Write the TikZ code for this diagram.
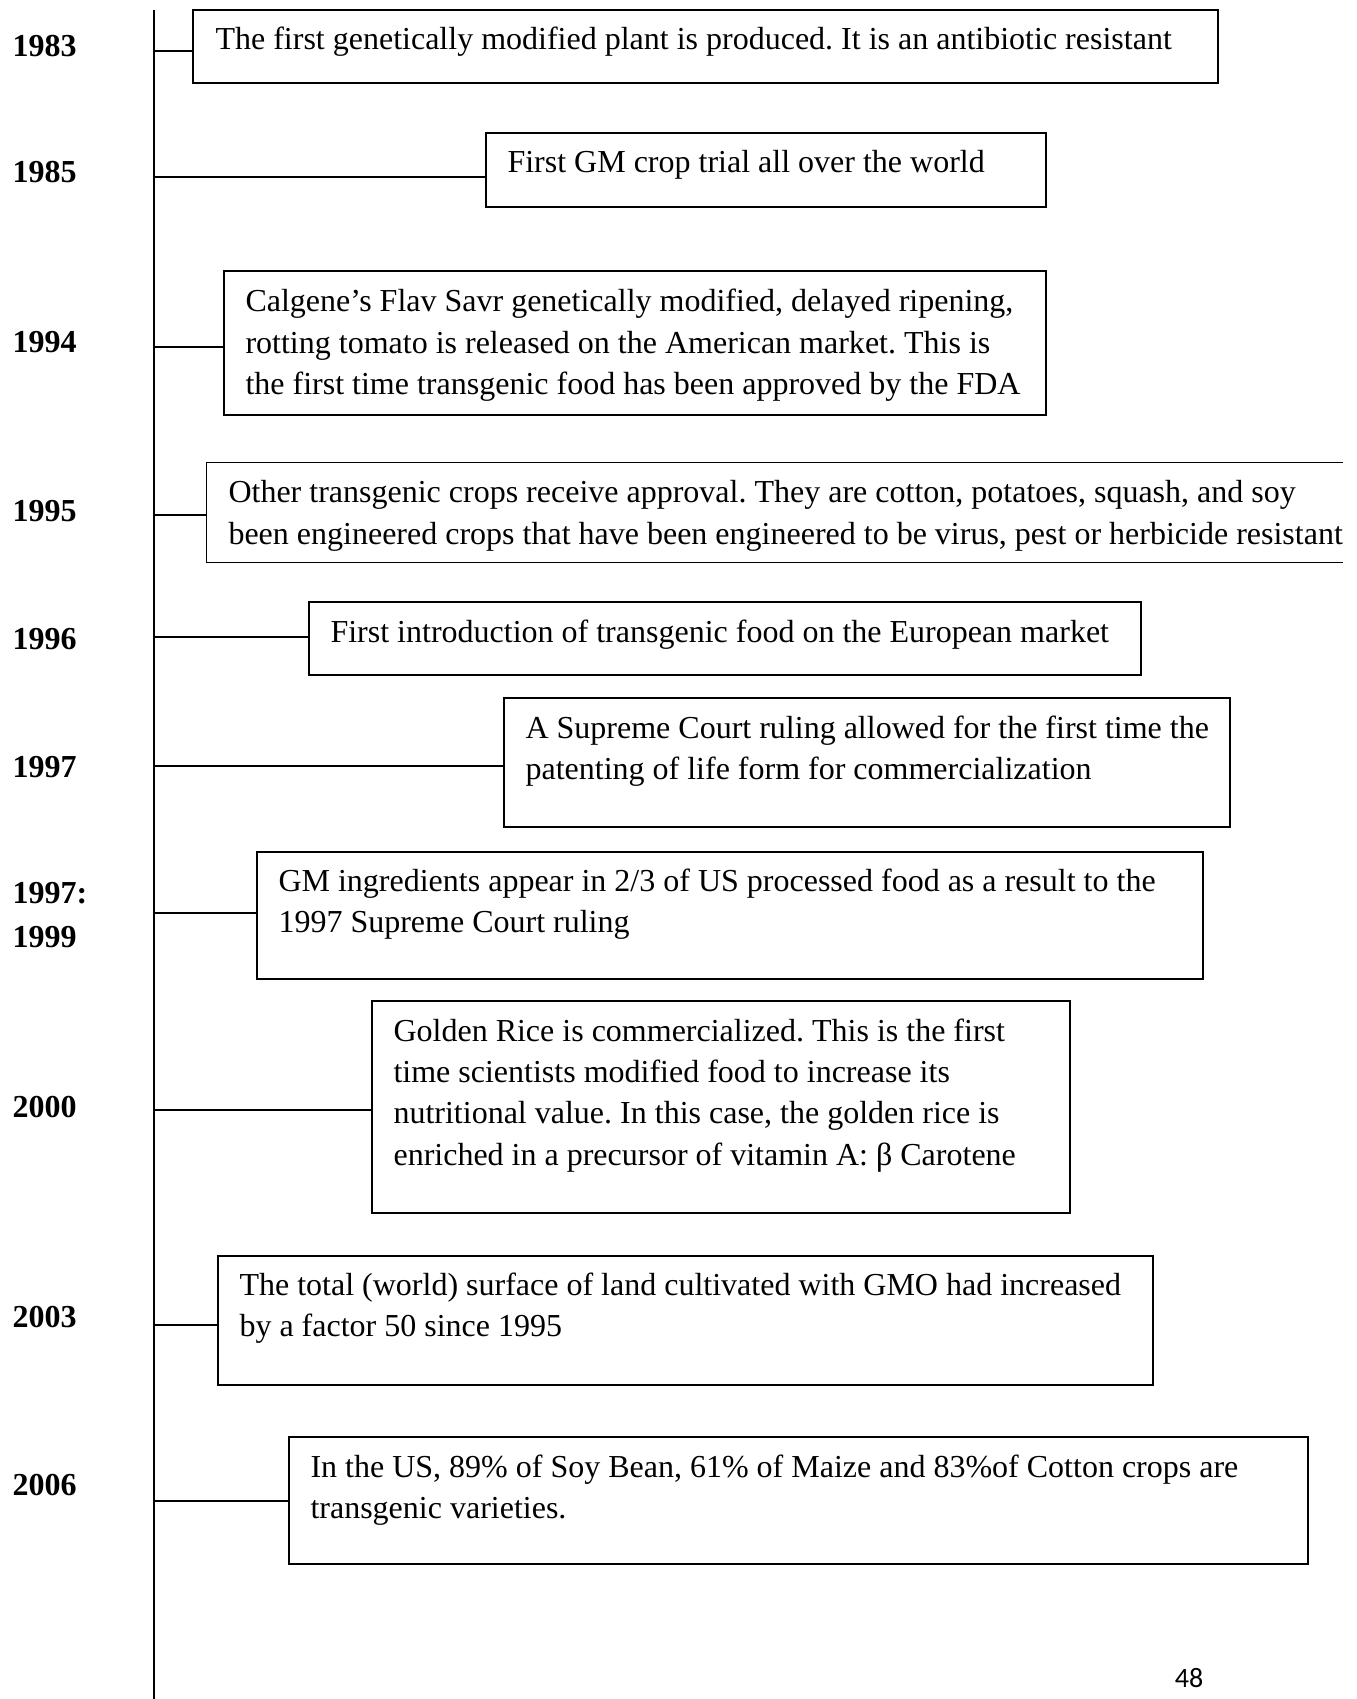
\documentclass[tikz,border=0pt]{standalone}
\usepackage{fontspec}
\setmainfont{Liberation Serif}
\newfontfamily\pagenumfont{Carlito}
\usetikzlibrary{fit}
\frenchspacing
\newcommand\tllines[1]{\parbox[t]{480pt}{\raggedright\frenchspacing #1}}
\tikzset{
  evbox/.style={draw, line width=0.8pt, inner sep=0pt, rectangle},
  openbox/.style={inner sep=0pt, rectangle},
  evtext/.style={inner sep=0pt, anchor=base west, font=\fontsize{12pt}{15.56pt}\selectfont},
  year/.style={inner sep=0pt, anchor=base west, font=\fontsize{12pt}{15.56pt}\selectfont\bfseries},
  axisline/.style={line width=0.85pt},
  tick/.style={line width=0.8pt}
}
\begin{document}
\begin{tikzpicture}[x=0.375pt, y=-0.375pt]
\useasboundingbox (0,0) rectangle (1357,1699);

% timeline axis
\coordinate (axtop) at (154,10);
\coordinate (axbot) at (154,1699);
\draw[axisline] (axtop) -- (axbot);

% boxes
\node[evbox, fit={(193,10) (1218,83)}] (b1) {};
\node[evbox, fit={(486,133) (1046,207)}] (b2) {};
\node[evbox, fit={(224,271) (1046,415)}] (b3) {};
\node[openbox, fit={(207,463) (1342,562)}] (b4) {};
\draw[line width=0.7pt] (b4.north east) -- (b4.north west) -- (b4.south west) -- (b4.south east);
\node[evbox, fit={(309,602) (1141,675)}] (b5) {};
\node[evbox, fit={(504,698) (1230,827)}] (b6) {};
\node[evbox, fit={(257,852) (1203,979)}] (b7) {};
\node[evbox, fit={(372,1001) (1070,1213)}] (b8) {};
\node[evbox, fit={(218,1256) (1153,1385)}] (b9) {};
\node[evbox, fit={(289,1437) (1308,1564)}] (b10) {};

% texts
\node[evtext] (t1) at (215,50) {\tllines{The first genetically modified plant is produced. It is an antibiotic resistant}};
\node[evtext] (t2) at (507,173) {\tllines{First GM crop trial all over the world}};
\node[evtext] (t3) at (245,312) {\tllines{Calgene’s Flav Savr genetically modified, delayed ripening,\\rotting tomato is released on the American market. This is\\the first time transgenic food has been approved by the FDA}};
\node[evtext] (t4) at (228,503) {\tllines{Other transgenic crops receive approval. They are cotton, potatoes, squash, and soy\\been engineered crops that have been engineered to be virus, pest or herbicide resistant}};
\node[evtext] (t5) at (330,643) {\tllines{First introduction of transgenic food on the European market}};
\node[evtext] (t6) at (525,738) {\tllines{A Supreme Court ruling allowed for the first time the\\patenting of life form for commercialization}};
\node[evtext] (t7) at (278,891) {\tllines{GM ingredients appear in 2/3 of US processed food as a result to the\\1997 Supreme Court ruling}};
\node[evtext] (t8) at (393,1041) {\tllines{Golden Rice is commercialized. This is the first\\time scientists modified food to increase its\\nutritional value. In this case, the golden rice is\\enriched in a precursor of vitamin A: β Carotene}};
\node[evtext] (t9) at (239,1295) {\tllines{The total (world) surface of land cultivated with GMO had increased\\by a factor 50 since 1995}};
\node[evtext] (t10) at (310,1477) {\tllines{In the US, 89\% of Soy Bean, 61\% of Maize and 83\%of Cotton crops are\\transgenic varieties.}};

% year labels
\node[year] (y1) at (12,57) {1983};
\node[year] (y2) at (12,183) {1985};
\node[year] (y3) at (12,353) {1994};
\node[year] (y4) at (12,522) {1995};
\node[year] (y5) at (12,650) {1996};
\node[year] (y6) at (12,777) {1997};
\node[year] (y7) at (12,903) {1997:};
\node[year] (y7b) at (12,947) {1999};
\node[year] (y8) at (12,1117) {2000};
\node[year] (y9) at (12,1327) {2003};
\node[year] (y10) at (12,1495) {2006};

% connectors
\coordinate (a1) at (154,51);
\coordinate (a2) at (154,177);
\coordinate (a3) at (154,347);
\coordinate (a4) at (154,515);
\coordinate (a5) at (154,637);
\coordinate (a6) at (154,766);
\coordinate (a7) at (154,913);
\coordinate (a8) at (154,1110);
\coordinate (a9) at (154,1325);
\coordinate (a10) at (154,1501);
\draw[tick] (a1) -- (a1 -| b1.west);
\draw[tick] (a2) -- (a2 -| b2.west);
\draw[tick] (a3) -- (a3 -| b3.west);
\draw[tick] (a4) -- (a4 -| b4.west);
\draw[tick] (a5) -- (a5 -| b5.west);
\draw[tick] (a6) -- (a6 -| b6.west);
\draw[tick] (a7) -- (a7 -| b7.west);
\draw[tick] (a8) -- (a8 -| b8.west);
\draw[tick] (a9) -- (a9 -| b9.west);
\draw[tick] (a10) -- (a10 -| b10.west);

% page number
\node[inner sep=0pt, anchor=base, font=\pagenumfont\fontsize{10.5pt}{12pt}\selectfont] (pg) at (1189,1687) {48};
\end{tikzpicture}
\end{document}
